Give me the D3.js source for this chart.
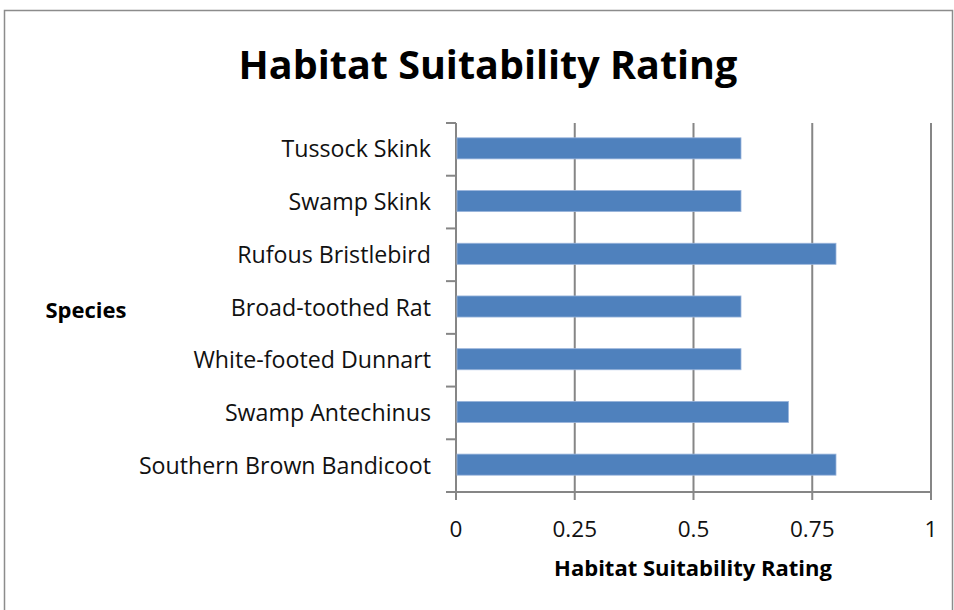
<!DOCTYPE html>
<html><head><meta charset="utf-8">
<script src="https://cdn.jsdelivr.net/npm/d3@7"></script>
<style>body{margin:0;background:#fff}svg{display:block}text{font-family:"Open Sans",sans-serif}</style>
</head><body>
<svg id="c" width="954" height="610"></svg>
<script>
const categories = ["Tussock Skink","Swamp Skink","Rufous Bristlebird","Broad-toothed Rat","White-footed Dunnart","Swamp Antechinus","Southern Brown Bandicoot"];
const values = [0.6,0.6,0.8,0.6,0.6,0.7,0.8];
const xTicks = [0,0.25,0.5,0.75,1];
const xTickLabels = ["0","0.25","0.5","0.75","1"];
const title = "Habitat Suitability Rating";
const xTitle = "Habitat Suitability Rating";
const yTitle = "Species";

const svg = d3.select("#c");
svg.append("rect").attr("x",4.5).attr("y",10.5).attr("width",948).attr("height",605)
  .attr("fill","#fff").attr("stroke","#8c8c8c").attr("stroke-width",1.5);

const L=456,R=931,T=123,B=492;
const x = d3.scaleLinear().domain([0,1]).range([L,R]);
const y = d3.scaleBand().domain(categories).range([T,B]).padding(0);

svg.append("g").selectAll("line").data(xTicks).join("line")
  .attr("x1",d=>x(d)).attr("x2",d=>x(d)).attr("y1",T).attr("y2",B+8)
  .attr("stroke","#868686").attr("stroke-width",2);

const bounds = categories.map(c=>y(c)).concat([B]);
svg.append("g").selectAll("line").data(bounds).join("line")
  .attr("x1",L-10).attr("x2",L).attr("y1",d=>d).attr("y2",d=>d)
  .attr("stroke","#868686").attr("stroke-width",2);
svg.append("line").attr("x1",L).attr("x2",R).attr("y1",B).attr("y2",B)
  .attr("stroke","#868686").attr("stroke-width",2);

const bh = y.bandwidth()*0.4;
svg.append("g").selectAll("rect").data(categories).join("rect")
  .attr("x",x(0)+1).attr("y",c=>y(c)+(y.bandwidth()-bh)/2-1)
  .attr("width",(c,i)=>x(values[i])-x(0)-1).attr("height",bh)
  .attr("fill","#4F81BD").attr("stroke","#9ab5dc").attr("stroke-width",0.8);

svg.append("g").selectAll("text").data(categories).join("text")
  .attr("x",L-25).attr("y",c=>y(c)+y.bandwidth()/2-1).attr("text-anchor","end")
  .attr("dominant-baseline","central").attr("font-size",23.2).attr("fill","#111").text(c=>c);

svg.append("g").selectAll("text").data(xTicks).join("text")
  .attr("x",d=>x(d)).attr("y",528).attr("text-anchor","middle")
  .attr("dominant-baseline","central").attr("font-size",22.5).attr("fill","#111")
  .text((d,i)=>xTickLabels[i]);

svg.append("text").attr("x",488).attr("y",64).attr("text-anchor","middle")
  .attr("dominant-baseline","central").attr("font-size",39.5).attr("font-weight","bold").text(title);
svg.append("text").attr("x",693).attr("y",567).attr("text-anchor","middle")
  .attr("dominant-baseline","central").attr("font-size",22).attr("font-weight","bold").text(xTitle);
svg.append("text").attr("x",86).attr("y",309).attr("text-anchor","middle")
  .attr("dominant-baseline","central").attr("font-size",22).attr("font-weight","bold").text(yTitle);
</script>
</body></html>
